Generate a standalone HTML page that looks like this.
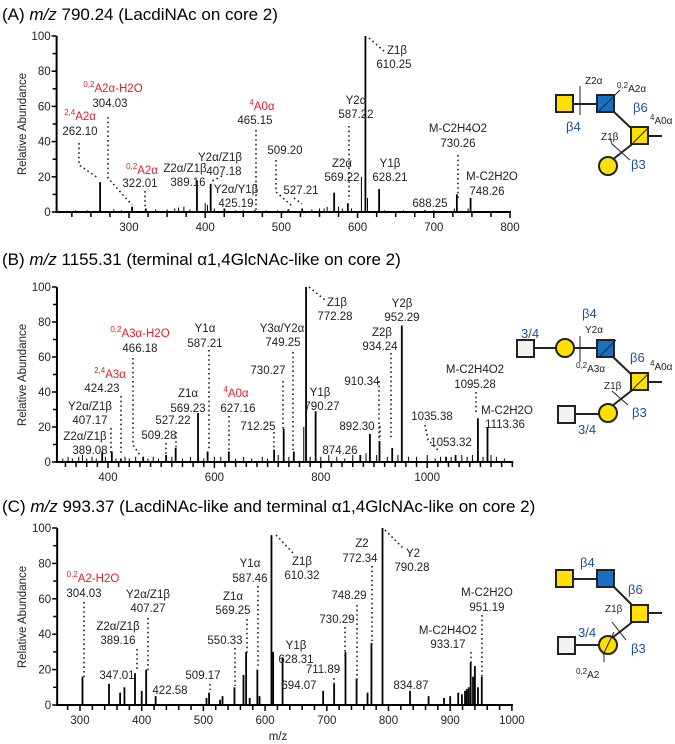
<!DOCTYPE html>
<html><head><meta charset="utf-8"><style>
body{margin:0;background:#fff}
svg{display:block;font-family:"Liberation Sans",Arial,sans-serif}
.t{font-size:17px}
.l{font-size:11.5px;fill:#222;text-anchor:middle}
.r{fill:#e0202a}
.ax{font-size:11.5px;fill:#222}
.g{font-size:10px;fill:#222}
.bl{font-size:13px;fill:#1d4f9c}
.d{stroke:#222;stroke-width:1.6;stroke-dasharray:1.6 3;fill:none}
.sub{font-size:8px}
</style></head><body>
<svg id="fig" width="675" height="744" viewBox="0 0 675 744">
<g id="marks"></g>
<!-- Titles -->
<text class="t" x="2" y="20">(A) <tspan font-style="italic">m/z</tspan> 790.24 (LacdiNAc on core 2)</text>
<text class="t" x="2" y="265">(B) <tspan font-style="italic">m/z</tspan> 1155.31 (terminal α1,4GlcNAc-like on core 2)</text>
<text class="t" x="2" y="512">(C) <tspan font-style="italic">m/z</tspan> 993.37 (LacdiNAc-like and terminal α1,4GlcNAc-like on core 2)</text>
<text class="ax" transform="translate(26,124) rotate(-90)" text-anchor="middle">Relative Abundance</text>
<text class="ax" transform="translate(26,375) rotate(-90)" text-anchor="middle">Relative Abundance</text>
<text class="ax" transform="translate(26,617) rotate(-90)" text-anchor="middle">Relative Abundance</text>
<text class="ax" x="278" y="740" text-anchor="middle">m/z</text>

<!-- Panel A labels -->
<g>
<text class="l r" x="80" y="120"><tspan class="sub" dy="-5">2,4</tspan><tspan dy="5">A2α</tspan></text>
<text class="l" x="80" y="135">262.10</text>
<path class="d" d="M79 143 L79 165 L98 178"/>
<text class="l r" x="113" y="92"><tspan class="sub" dy="-5">0,2</tspan><tspan dy="5">A2α-H2O</tspan></text>
<text class="l" x="110" y="107">304.03</text>
<path class="d" d="M108 117 L108 178 L132 205"/>
<text class="l r" x="142" y="174"><tspan class="sub" dy="-5">0,2</tspan><tspan dy="5">A2α</tspan></text>
<text class="l" x="140" y="187">322.01</text>
<path class="d" d="M145 191 L145 208"/>
<text class="l" x="185" y="172">Z2α/Z1β</text><text class="l" x="188" y="186">389.16</text>
<text class="l" x="220" y="161">Y2α/Z1β</text><text class="l" x="224" y="175">407.18</text>
<path class="d" d="M222 176 L210 182"/>
<text class="l" x="236" y="193">Y2α/Y1β</text><text class="l" x="236" y="207">425.19</text>
<text class="l r" x="262" y="110"><tspan class="sub" dy="-5">4</tspan><tspan dy="5">A0α</tspan></text>
<text class="l" x="255" y="124">465.15</text>
<path class="d" d="M256 130 L256 210"/>
<text class="l" x="285" y="154">509.20</text>
<path class="d" d="M276 160 L276 192 L292 206"/>
<text class="l" x="301" y="194">527.21</text>
<path class="d" d="M294 198 L302 204"/>
<text class="l" x="342" y="167">Z2α</text><text class="l" x="342" y="181">569.22</text>
<text class="l" x="356" y="104">Y2α</text><text class="l" x="356" y="118">587.22</text>
<path class="d" d="M349 126 L349 200"/>
<text class="l" x="397" y="54">Z1β</text><text class="l" x="394" y="68">610.25</text>
<path class="d" d="M369 38 L385 52"/>
<text class="l" x="390" y="167">Y1β</text><text class="l" x="390" y="181">628.21</text>
<text class="l" x="430" y="207">688.25</text>
<text class="l" x="458" y="132">M-C2H4O2</text><text class="l" x="458" y="147">730.26</text>
<path class="d" d="M458 155 L458 198"/>
<text class="l" x="492" y="180">M-C2H2O</text><text class="l" x="487" y="195">748.26</text>
</g>

<!-- Panel B labels -->
<g>
<text class="l" x="85" y="440">Z2α/Z1β</text><text class="l" x="90" y="454">389.08</text>
<text class="l" x="90" y="410">Y2α/Z1β</text><text class="l" x="90" y="424">407.17</text>
<path class="d" d="M111 428 L111 455"/>
<text class="l r" x="110" y="378"><tspan class="sub" dy="-5">2,4</tspan><tspan dy="5">A3α</tspan></text>
<text class="l" x="102" y="392">424.23</text>
<path class="d" d="M121 396 L121 455"/>
<text class="l r" x="140" y="337"><tspan class="sub" dy="-5">0,2</tspan><tspan dy="5">A3α-H2O</tspan></text>
<text class="l" x="140" y="352">466.18</text>
<path class="d" d="M133 358 L133 445 L140 455"/>
<text class="l" x="159" y="439">509.28</text>
<path class="d" d="M166 443 L166 455"/>
<text class="l" x="173" y="424">527.22</text>
<path class="d" d="M176 432 L176 450"/>
<text class="l" x="188" y="397">Z1α</text><text class="l" x="188" y="412">569.23</text>
<text class="l" x="205" y="332">Y1α</text><text class="l" x="205" y="347">587.21</text>
<path class="d" d="M209 350 L209 450"/>
<text class="l r" x="236" y="397"><tspan class="sub" dy="-5">4</tspan><tspan dy="5">A0α</tspan></text>
<text class="l" x="238" y="412">627.16</text>
<path class="d" d="M229 416 L229 450"/>
<text class="l" x="258" y="430">712.25</text>
<path class="d" d="M274 432 L274 450"/>
<text class="l" x="268" y="374">730.27</text>
<path class="d" d="M283 381 L283 430"/>
<text class="l" x="282" y="332">Y3α/Y2α</text><text class="l" x="283" y="346">749.25</text>
<path class="d" d="M293 352 L293 450"/>
<text class="l" x="337" y="306">Z1β</text><text class="l" x="335" y="320">772.28</text>
<path class="d" d="M309 287 L325 300"/>
<text class="l" x="320" y="396">Y1β</text><text class="l" x="322" y="410">790.27</text>
<text class="l" x="340" y="454">874.26</text>
<text class="l" x="357" y="430">892.30</text>
<path class="d" d="M380 426 L380 440"/>
<text class="l" x="362" y="385">910.34</text>
<path class="d" d="M379 381 L379 440"/>
<text class="l" x="382" y="336">Z2β</text><text class="l" x="380" y="350">934.24</text>
<path class="d" d="M391 353 L391 440"/>
<text class="l" x="402" y="307">Y2β</text><text class="l" x="402" y="321">952.29</text>
<text class="l" x="432" y="420">1035.38</text>
<path class="d" d="M425 425 L428 440 L440 452"/>
<text class="l" x="451" y="446">1053.32</text>
<text class="l" x="475" y="373">M-C2H4O2</text><text class="l" x="475" y="388">1095.28</text>
<path class="d" d="M476 392 L476 415"/>
<text class="l" x="507" y="414">M-C2H2O</text><text class="l" x="505" y="428">1113.36</text>
</g>

<!-- Panel C labels -->
<g>
<text class="l r" x="93" y="582"><tspan class="sub" dy="-5">0,2</tspan><tspan dy="5">A2-H2O</tspan></text>
<text class="l" x="84" y="597">304.03</text>
<path class="d" d="M84 602 L84 680"/>
<text class="l" x="117" y="679">347.01</text>
<text class="l" x="118" y="630">Z2α/Z1β</text><text class="l" x="118" y="644">389.16</text>
<path class="d" d="M137 649 L137 670"/>
<text class="l" x="148" y="598">Y2α/Z1β</text><text class="l" x="148" y="612">407.27</text>
<path class="d" d="M148 618 L148 672"/>
<text class="l" x="170" y="694">422.58</text>
<text class="l" x="203" y="679">509.17</text>
<path class="d" d="M210 684 L210 690"/>
<text class="l" x="225" y="644">550.33</text>
<path class="d" d="M235 648 L235 686"/>
<text class="l" x="233" y="600">Z1α</text><text class="l" x="233" y="614">569.25</text>
<path class="d" d="M247 619 L247 655"/>
<text class="l" x="250" y="567">Y1α</text><text class="l" x="250" y="582">587.46</text>
<path class="d" d="M258 586 L258 668"/>
<text class="l" x="302" y="565">Z1β</text><text class="l" x="302" y="579">610.32</text>
<path class="d" d="M276 535 L295 555"/>
<text class="l" x="296" y="649">Y1β</text><text class="l" x="296" y="663">628.31</text>
<text class="l" x="299" y="689">694.07</text>
<text class="l" x="323" y="673">711.89</text>
<path class="d" d="M334 678 L334 690"/>
<text class="l" x="337" y="623">730.29</text>
<path class="d" d="M345 627 L345 660"/>
<text class="l" x="349" y="599">748.29</text>
<path class="d" d="M357 605 L357 680"/>
<text class="l" x="362" y="547">Z2</text><text class="l" x="360" y="562">772.34</text>
<path class="d" d="M372 566 L372 645"/>
<text class="l" x="413" y="557">Y2</text><text class="l" x="412" y="571">790.28</text>
<path class="d" d="M385 530 L403 548"/>
<text class="l" x="411" y="689">834.87</text>
<text class="l" x="448" y="634">M-C2H4O2</text><text class="l" x="448" y="648">933.17</text>
<path class="d" d="M471 652 L471 663"/>
<text class="l" x="487" y="596">M-C2H2O</text><text class="l" x="487" y="611">951.19</text>
<path class="d" d="M482 615 L482 680"/>
</g>

<!-- Glycan A -->
<g stroke="#222" stroke-width="2">
<line x1="573" y1="104" x2="597" y2="104"/><line x1="612" y1="110" x2="633" y2="130"/><line x1="612" y1="160" x2="635" y2="142"/><line x1="648" y1="136" x2="662" y2="136"/>
<rect x="556" y="95" width="17" height="17" fill="#ffe000"/>
<rect x="597" y="95" width="17" height="17" fill="#1a6fc2"/>
<rect x="631" y="127" width="17" height="17" fill="#ffe000"/>
<circle cx="608" cy="166" r="9" fill="#ffe000"/>
<g stroke-width="1"><line x1="599" y1="111" x2="614" y2="96"/><line x1="633" y1="143" x2="648" y2="128"/><line x1="580" y1="86" x2="580" y2="115"/><line x1="614" y1="96" x2="620" y2="90"/><line x1="612" y1="144" x2="630" y2="160"/><line x1="610" y1="138" x2="612" y2="144"/></g>
</g>
<g>
<text class="g" x="585" y="84">Z2α</text><text class="g" x="617" y="92"><tspan class="sub" dy="-4">0,2</tspan><tspan dy="4">A2α</tspan></text>
<text class="bl" x="566" y="131">β4</text><text class="bl" x="633" y="112">β6</text><text class="bl" x="631" y="169">β3</text>
<text class="g" x="650" y="124"><tspan class="sub" dy="-4">4</tspan><tspan dy="4">A0α</tspan></text>
<text class="g" x="601" y="140">Z1β</text>
</g>

<!-- Glycan B -->
<g stroke="#222" stroke-width="2">
<line x1="533" y1="348" x2="597" y2="348"/><line x1="612" y1="356" x2="633" y2="376"/><line x1="612" y1="406" x2="635" y2="388"/><line x1="648" y1="382" x2="662" y2="382"/><line x1="576" y1="414" x2="608" y2="414"/>
<rect x="517" y="340" width="17" height="17" fill="#f2f2f2"/>
<circle cx="565" cy="348" r="9" fill="#ffe000"/>
<rect x="597" y="340" width="17" height="17" fill="#1a6fc2"/>
<rect x="631" y="373" width="17" height="17" fill="#ffe000"/>
<circle cx="608" cy="413" r="9" fill="#ffe000"/>
<rect x="558" y="406" width="17" height="17" fill="#f2f2f2"/>
<g stroke-width="1"><line x1="599" y1="357" x2="616" y2="340"/><line x1="633" y1="389" x2="648" y2="374"/><line x1="580" y1="336" x2="580" y2="362"/><line x1="612" y1="391" x2="628" y2="405"/></g>
</g>
<g>
<text class="bl" x="521" y="338">3/4</text><text class="bl" x="582" y="318">β4</text><text class="g" x="585" y="333">Y2α</text>
<text class="g" x="576" y="372"><tspan class="sub" dy="-4">0,2</tspan><tspan dy="4">A3α</tspan></text>
<text class="bl" x="630" y="362">β6</text><text class="g" x="650" y="370"><tspan class="sub" dy="-4">4</tspan><tspan dy="4">A0α</tspan></text>
<text class="g" x="604" y="389">Z1β</text><text class="bl" x="632" y="417">β3</text><text class="bl" x="578" y="434">3/4</text>
</g>

<!-- Glycan C -->
<g stroke="#222" stroke-width="2">
<line x1="573" y1="579" x2="597" y2="579"/><line x1="612" y1="585" x2="633" y2="606"/><line x1="612" y1="638" x2="635" y2="620"/><line x1="648" y1="613" x2="662" y2="613"/><line x1="576" y1="645" x2="600" y2="645"/>
<rect x="556" y="570" width="17" height="17" fill="#ffe000"/>
<rect x="597" y="570" width="17" height="17" fill="#1a6fc2"/>
<rect x="631" y="605" width="17" height="17" fill="#ffe000"/>
<circle cx="608" cy="645" r="9" fill="#ffe000"/>
<rect x="558" y="637" width="17" height="17" fill="#f2f2f2"/>
<g stroke-width="1"><line x1="603" y1="655" x2="614" y2="632"/><line x1="612" y1="622" x2="626" y2="640"/><line x1="604" y1="655" x2="604" y2="662"/></g>
</g>
<g>
<text class="bl" x="580" y="567">β4</text><text class="bl" x="628" y="594">β6</text>
<text class="g" x="605" y="612">Z1β</text><text class="bl" x="631" y="653">β3</text><text class="bl" x="578" y="637">3/4</text>
<text class="g" x="576" y="678"><tspan class="sub" dy="-4">0,2</tspan><tspan dy="4">A2</tspan></text>
</g>
</svg>
<script>
// Panel A data
const aMz=[262.10,304.03,322.01,389.16,407.18,425.19,465.15,509.20,527.21,569.22,587.22,610.25,628.21,688.25,730.26,748.26];
const aInt=[17,3,2,18,16,2,1,1.5,2,11,5,100,13,1,10,8];
const aNoiseMz=[230,245,280,290,335,350,360,365,372,380,400,403,412,440,450,480,495,540,550,556,560,575,580,592,605,613,635,660,700,727,745];
const aNoiseInt=[1,1,1.5,1,1.5,1.5,2,2.5,3,1.5,5,4,2,1,1,1,1,1.5,2,2,3,3,2,2,20,8,1,1,1,2,2];
// Panel B data
const bMz=[389.08,407.17,424.23,466.18,509.28,527.22,569.23,587.21,627.16,712.25,730.27,749.25,772.28,790.27,874.26,892.30,910.34,934.24,952.29,1035.38,1053.32,1095.28,1113.36];
const bInt=[6,6,2,3,4,8,28,6,6,7,19,6,100,29,4,16,12,8,78,3,4,25,20];
const bNoiseMz=[315,325,333,345,352,360,370,378,395,415,432,440,452,475,485,495,520,540,555,580,600,612,640,655,670,690,700,720,740,768,780,800,815,830,845,860,885,905,925,945,965,980,1000,1015,1025,1045,1065,1075,1085,1105,1120,1130,1145];
const bNoiseInt=[2,3,2,3,4,2,3,2,3,2,3,2,3,2,3,2,3,2,3,2,3,3,2,3,2,3,2,4,3,20,3,3,4,3,2,4,5,4,3,4,3,3,4,2,3,3,4,3,4,3,4,3,2];
// Panel C data
const cMz=[304.03,347.01,365,372,389.16,400,407.27,422.58,505,509.17,527,531,550.33,565,569.25,575,587.46,591,610.32,613,628.31,694.07,711.89,730.29,748.29,766,772.34,790.28,834.87,865,890,900,913,919,924,927,930,933.17,937,940,945,951.19];
const cInt=[16,12,7,10,18,8,20,5,4,7,3,5,10,17,30,4,20,5,96,30,27,8,12,30,15,7,35,100,8,5,4,5,7,6,8,9,10,24,16,22,10,16];
const aTicks=[300,400,500,600,700,800];
const bTicks=[400,600,800,1000];
const cTicks=[300,400,500,600,700,800,900,1000];
const yTicks=[0,20,40,60,80,100];

const NS='http://www.w3.org/2000/svg';
const root=document.getElementById('marks');
function mk(tag,attrs){const e=document.createElementNS(NS,tag);for(const k in attrs)e.setAttribute(k,attrs[k]);root.appendChild(e);return e;}

function panel(key,xs,ys,mzLo,mzHi,minor,ticks,mz,inten,nmz,nint){
  const y0=ys(0);
  for(let i=0;i<nmz.length;i++){
    const e=mk('line',{x1:xs(nmz[i]),x2:xs(nmz[i]),y1:y0,y2:ys(nint[i]),stroke:'#000','stroke-width':1});
    
    
  }
  for(let i=0;i<mz.length;i++){
    const e=mk('line',{x1:xs(mz[i]),x2:xs(mz[i]),y1:y0,y2:ys(inten[i]),stroke:'#000','stroke-width':1.8});
    
    
  }
  const xa=mk('line',{x1:xs(mzLo)-1,x2:xs(mzHi)+1,y1:y0,y2:y0,stroke:'#000','stroke-width':2});
  
  
  const ya=mk('line',{x1:xs(mzLo),x2:xs(mzLo),y1:y0,y2:ys(100),stroke:'#000','stroke-width':2});
  
  
  for(let m=Math.ceil(mzLo/minor)*minor;m<=mzHi;m+=minor){
    const major=ticks.includes(m);
    const t=mk('line',{x1:xs(m),x2:xs(m),y1:y0,y2:y0+(major?6:5),stroke:'#000','stroke-width':1.5});
    
    
  }
  ticks.forEach(m=>{
    const t=mk('text',{x:xs(m),y:y0+19,'text-anchor':'middle',class:'ax'});t.textContent=m;
    
    
  });
  for(let v=0;v<=100;v+=10){
    const t=mk('line',{x1:xs(mzLo)-(v%20===0?5:4),x2:xs(mzLo),y1:ys(v),y2:ys(v),stroke:'#000','stroke-width':1.5});
    
    
  }
  yTicks.forEach(v=>{
    const t=mk('text',{x:xs(mzLo)-6,y:ys(v)+4,'text-anchor':'end',class:'ax'});t.textContent=v;
    
    
  });
}
panel('a',m=>129+(m-300)*0.762,v=>212-v*1.76,205,800,25,aTicks,aMz,aInt,aNoiseMz,aNoiseInt);
panel('b',m=>108+(m-400)*0.532,v=>462-v*1.75,304,1160,20,bTicks,bMz,bInt,bNoiseMz,bNoiseInt);
panel('c',m=>80+(m-300)*0.617,v=>705-v*1.77,263,1000,20,cTicks,cMz,cInt,[],[]);
</script>
</body></html>
